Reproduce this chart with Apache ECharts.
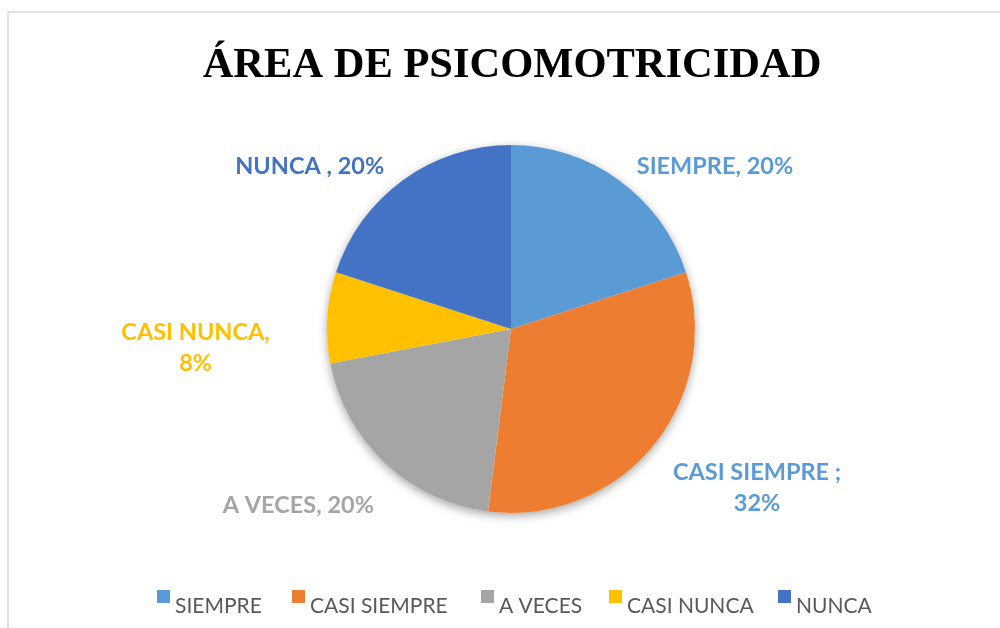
<!DOCTYPE html>
<html>
<head>
<meta charset="utf-8">
<script src="https://cdn.jsdelivr.net/npm/echarts@6/dist/echarts.min.js"></script>
<style>
html,body{margin:0;padding:0;background:#fff;}
#main{width:1000px;height:628px;}
</style>
</head>
<body>
<div id="main"></div>
<script>
const titleText = 'ÁREA DE PSICOMOTRICIDAD';
const categories = ['SIEMPRE', 'CASI SIEMPRE', 'A VECES', 'CASI NUNCA', 'NUNCA'];
const values = [20, 32, 20, 8, 20];
const labelSeparators = [', ', ' ;\n', ', ', ',\n', ' , '];

const sliceColors = ['#5B9BD5', '#ED7D31', '#A5A5A5', '#FFC000', '#4472C4'];
const labelColors = ['#5B9BD5', '#5B9BD5', '#A5A5A5', '#FFC000', '#4472C4'];
// label anchor: [angle clockwise from 12 o'clock (deg), distance from centre (px)]
const labelAnchors = [[51.4, 261], [122.9, 293], [230.4, 276], [266.5, 316], [309, 259]];
// legend item left edges (px)
const legendLefts = [157, 292, 481, 609, 778];

const cx = 511, cy = 329, R = 184;
const total = values.reduce((a, b) => a + b, 0);

const chart = echarts.init(document.getElementById('main'), null, {renderer: 'canvas'});
chart.setOption({
  animation: false,
  backgroundColor: '#fff',
  graphic: [
    {type: 'rect', z: -10, silent: true, shape: {x: 8, y: 12, width: 1100, height: 700},
     style: {fill: 'none', stroke: '#D9D9D9', lineWidth: 1.5}},
    {type: 'text', x: 512, y: 66, silent: true,
     style: {text: titleText, align: 'center', verticalAlign: 'middle',
             font: 'bold 42.5px "Liberation Serif", "Times New Roman", serif', fill: '#000'}}
  ],
  legend: categories.map((c, i) => ({
    left: legendLefts[i], top: 590, padding: 0,
    data: [c],
    icon: 'rect', itemWidth: 13, itemHeight: 13, itemGap: 0,
    formatter: '{t|{name}}',
    textStyle: {
      color: '#595959',
      rich: {t: {color: '#595959', fontSize: 21, fontFamily: 'Lato, "Open Sans", sans-serif', padding: [20, 0, 0, 0]}}
    }
  })),
  series: [
    {
      type: 'pie', silent: true, z: 1,
      center: [cx, cy], radius: R,
      data: [{value: 1, name: '_bg'}],
      itemStyle: {color: '#fff', shadowBlur: 10, shadowColor: 'rgba(0,0,0,0.35)', shadowOffsetY: 3},
      label: {show: false}, labelLine: {show: false}
    },
    {
      type: 'pie', z: 2,
      center: [cx, cy], radius: R,
      startAngle: 90, clockwise: true,
      data: categories.map((c, i) => ({
        name: c, value: values[i],
        itemStyle: {color: sliceColors[i]},
        label: {color: labelColors[i]}
      })),
      label: {
        show: true, position: 'outside',
        fontFamily: 'Lato, "Open Sans", sans-serif', fontWeight: 'bold', fontSize: 23.5, lineHeight: 31,
        align: 'center',
        formatter: p => p.name + labelSeparators[p.dataIndex] + Math.round(values[p.dataIndex] / total * 100) + '%'
      },
      labelLine: {show: false},
      labelLayout: function (params) {
        const a = labelAnchors[params.dataIndex];
        const rad = a[0] * Math.PI / 180;
        return {
          x: cx + a[1] * Math.sin(rad),
          y: cy - a[1] * Math.cos(rad),
          align: 'center', verticalAlign: 'middle'
        };
      }
    }
  ]
});
</script>
</body>
</html>
